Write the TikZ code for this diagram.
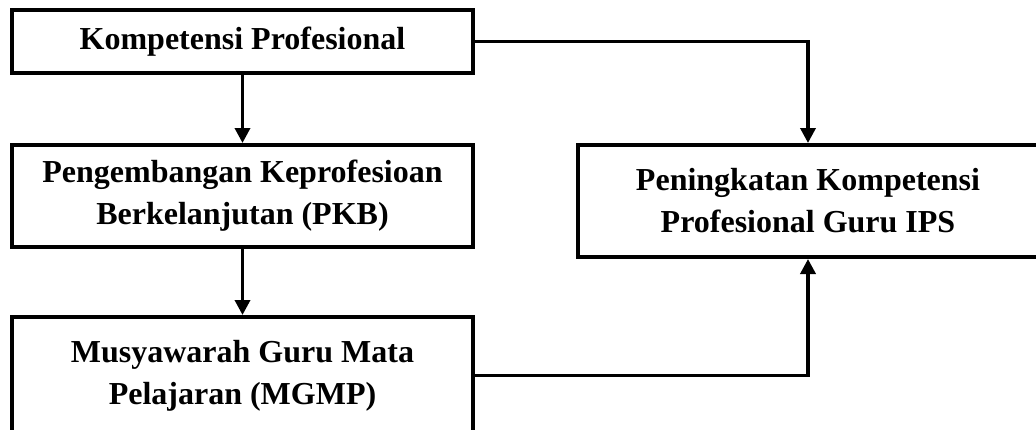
\documentclass[tikz,border=0pt]{standalone}
\usepackage{fontspec}
\setmainfont{Liberation Serif}
\usetikzlibrary{arrows.meta}
\begin{document}
\begin{tikzpicture}[x=1pt,y=-1pt,
  box/.style={draw,line width=4pt,rectangle,align=center,inner sep=0pt,
    font=\bfseries\fontsize{32}{42}\selectfont},
  conn/.style={line width=3.5pt,-{Triangle[width=15pt,length=15pt]}}]
\clip (0,0) rectangle (1036,429);
\fill[white] (0,0) rectangle (1036,429);
\node[box,minimum width=461pt,minimum height=63pt] (b1) at (242.5,41.5) {Kompetensi Profesional};
\node[box,minimum width=461pt,minimum height=102pt] (b2) at (242.5,196) {Pengembangan Keprofesioan\\Berkelanjutan (PKB)};
\node[box,minimum width=461pt,minimum height=117pt] (b3) at (242.5,375.5) {Musyawarah Guru Mata\\Pelajaran (MGMP)};
\node[box,minimum width=460pt,minimum height=112pt] (b4) at (808,201) {Peningkatan Kompetensi\\Profesional Guru IPS};
\draw[conn] (b1.south) -- (b2.north);
\draw[conn] (b2.south) -- (b3.north);
\draw[conn] (b1.east) -| (b4.north);
\draw[conn] (b3.east) -| (b4.south);
\end{tikzpicture}
\end{document}
